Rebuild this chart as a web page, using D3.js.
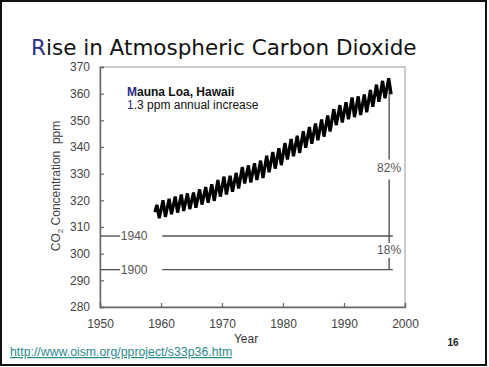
<!DOCTYPE html>
<html>
<head>
<meta charset="utf-8">
<script src="https://cdn.jsdelivr.net/npm/d3@7"></script>
<style>
  body { margin: 0; background: #fff; }
  svg { display: block; }
</style>
</head>
<body>
<div id="chart"></div>
<script>
// Mauna Loa record: one spring peak and one autumn low per year (ppm)
const years = [1959, 1960, 1961, 1962, 1963, 1964, 1965, 1966, 1967, 1968,
               1969, 1970, 1971, 1972, 1973, 1974, 1975, 1976, 1977, 1978,
               1979, 1980, 1981, 1982, 1983, 1984, 1985, 1986, 1987, 1988,
               1989, 1990, 1991, 1992, 1993, 1994, 1995, 1996, 1997];
const springPeaks = [318.3, 320.0, 320.6, 321.4, 322.2, 322.6, 322.9, 324.1, 325.0, 326.0,
                     327.6, 328.9, 329.2, 330.3, 332.5, 333.1, 333.9, 334.9, 336.7, 338.1,
                     339.5, 341.5, 343.0, 344.2, 345.9, 347.5, 348.8, 350.3, 351.8, 354.2,
                     355.7, 356.8, 358.6, 359.0, 359.7, 361.4, 363.4, 364.8, 365.8];
const autumnLows = [313.3, 313.8, 314.8, 315.4, 316.0, 316.7, 317.2, 318.4, 319.1, 319.8,
                    321.4, 322.2, 323.2, 324.4, 326.3, 326.7, 327.6, 328.4, 330.5, 331.9,
                    333.2, 335.3, 336.5, 337.8, 339.7, 341.2, 342.5, 343.9, 345.8, 348.2,
                    349.2, 350.4, 351.2, 352.0, 353.0, 355.1, 357.0, 358.3, 359.8];
const startValue = 315.6;   // January 1959

const yTicks = [280, 290, 300, 310, 320, 330, 340, 350, 360, 370];
const xTicks = [1950, 1960, 1970, 1980, 1990, 2000];

// pre-industrial reference levels
const refLabels = ["1940", "1900"];
const refValues = [306.6, 294.0];
const shareLabels = ["82%", "18%"];
const latestValue = 362.5;
const bracketYear = 1997.4;
const lineEndYear = 1998;

(function draw() {
    const WIDTH = 489;
    const HEIGHT = 367;
    const FONT = "'Liberation Sans', Arial, sans-serif";
    const BLUE = "#2e2e88";

    const svg = d3.select("#chart").append("svg")
        .attr("width", WIDTH)
        .attr("height", HEIGHT);

    // slide frame
    svg.append("rect")
        .attr("x", 1).attr("y", 1)
        .attr("width", 485).attr("height", 364)
        .attr("fill", "#fff")
        .attr("stroke", "#111")
        .attr("stroke-width", 2);

    // title
    const title = svg.append("text")
        .attr("x", 31).attr("y", 55)
        .style("font-family", "'DejaVu Sans', Verdana, sans-serif")
        .style("font-size", "21.5px")
        .attr("fill", "#111");
    title.append("tspan").attr("fill", BLUE).text("R");
    title.append("tspan").text("ise in Atmospheric Carbon Dioxide");

    const x = d3.scaleLinear().domain([1950, 2000]).range([100, 405]);
    const y = d3.scaleLinear().domain([280, 370]).range([307, 67]);

    // plot box
    svg.append("rect")
        .attr("x", x(1950)).attr("y", y(370))
        .attr("width", x(2000) - x(1950))
        .attr("height", y(280) - y(370))
        .attr("fill", "none")
        .attr("stroke", "#aaa")
        .attr("stroke-width", 1.2);

    const yAxis = svg.append("g")
        .attr("transform", `translate(${x(1950)},0)`)
        .call(d3.axisLeft(y).tickValues(yTicks).tickSize(-4).tickPadding(10).tickFormat(d3.format("d")));
    const xAxis = svg.append("g")
        .attr("transform", `translate(0,${y(280)})`)
        .call(d3.axisBottom(x).tickValues(xTicks).tickSize(-4).tickPadding(12).tickFormat(d3.format("d")));

    [yAxis, xAxis].forEach(g => {
        g.select(".domain").attr("stroke", "#666").attr("stroke-width", 1.4);
        g.selectAll(".tick line").attr("stroke", "#666").attr("stroke-width", 1.2);
        g.selectAll(".tick text")
            .attr("fill", "#444")
            .style("font-family", FONT)
            .style("font-size", "12px");
    });

    // axis titles
    const yTitle = svg.append("text")
        .attr("transform", "translate(60,186) rotate(-90)")
        .attr("text-anchor", "middle")
        .attr("fill", "#444")
        .style("font-family", FONT)
        .style("font-size", "12px")
        .style("white-space", "pre");
    yTitle.append("tspan").text("CO");
    yTitle.append("tspan").attr("dy", 3).style("font-size", "8px").text("2");
    yTitle.append("tspan").attr("dy", -3).text(" Concentration  ppm");

    svg.append("text")
        .attr("x", 246).attr("y", 343)
        .attr("text-anchor", "middle")
        .attr("fill", "#333")
        .style("font-family", FONT)
        .style("font-size", "12px")
        .text("Year");

    // reference levels
    refValues.forEach((v, i) => {
        const g = svg.append("g").attr("stroke", "#555").attr("stroke-width", 1.4);
        g.append("line")
            .attr("x1", x(1950)).attr("x2", x(1953.3))
            .attr("y1", y(v)).attr("y2", y(v));
        g.append("line")
            .attr("x1", x(1960.2)).attr("x2", x(lineEndYear))
            .attr("y1", y(v)).attr("y2", y(v));
        svg.append("text")
            .attr("x", x(1955.6)).attr("y", y(v))
            .attr("dy", "0.35em")
            .attr("text-anchor", "middle")
            .attr("fill", "#555")
            .style("font-family", FONT)
            .style("font-size", "12px")
            .text(refLabels[i]);
    });

    // bracket with shares
    const bx = x(bracketYear);
    svg.append("line")
        .attr("x1", bx).attr("x2", bx)
        .attr("y1", y(latestValue)).attr("y2", y(refValues[1]))
        .attr("stroke", "#555").attr("stroke-width", 1.4);
    svg.append("line")
        .attr("x1", bx - 2.5).attr("x2", x(lineEndYear) - 1.5)
        .attr("y1", y(latestValue)).attr("y2", y(latestValue))
        .attr("stroke", "#555").attr("stroke-width", 1.4);

    const shareY = [
        y((latestValue + refValues[0]) / 2) + 6,
        y((refValues[0] + refValues[1]) / 2) - 3
    ];
    shareLabels.forEach((s, i) => {
        svg.append("rect")
            .attr("x", bx - 6).attr("y", shareY[i] - (i === 0 ? 8 : 7))
            .attr("width", 12).attr("height", i === 0 ? 20 : 15)
            .attr("fill", "#fff");
        svg.append("text")
            .attr("x", bx).attr("y", shareY[i])
            .attr("dy", "0.35em")
            .attr("text-anchor", "middle")
            .attr("fill", "#555")
            .style("font-family", FONT)
            .style("font-size", "12px")
            .text(s);
    });

    // CO2 record
    const points = [[1959.0, startValue]];
    years.forEach((yr, i) => {
        points.push([yr + 0.33, springPeaks[i]]);
        points.push([yr + 0.72, autumnLows[i]]);
    });
    svg.append("path")
        .datum(points)
        .attr("fill", "none")
        .attr("stroke", "#000")
        .attr("stroke-width", 3.2)
        .attr("d", d3.line().x(d => x(d[0])).y(d => y(d[1])));

    // station note
    const note1 = svg.append("text")
        .attr("x", 127).attr("y", 96)
        .attr("fill", "#111")
        .style("font-family", FONT)
        .style("font-size", "12px")
        .style("font-weight", "bold");
    note1.append("tspan").attr("fill", BLUE).text("M");
    note1.append("tspan").text("auna Loa, Hawaii");

    const note2 = svg.append("text")
        .attr("x", 127).attr("y", 108.5)
        .attr("fill", "#111")
        .style("font-family", FONT)
        .style("font-size", "12px");
    note2.append("tspan").attr("fill", BLUE).text("1");
    note2.append("tspan").text(".3 ppm annual increase");

    // source link and page number
    svg.append("text")
        .attr("x", 10).attr("y", 356)
        .attr("fill", "#2a8a8a")
        .style("font-family", FONT)
        .style("font-size", "12.3px")
        .style("text-decoration", "underline")
        .text("http://www.oism.org/pproject/s33p36.htm");

    svg.append("text")
        .attr("x", 453).attr("y", 346)
        .attr("text-anchor", "middle")
        .attr("fill", "#222")
        .style("font-family", FONT)
        .style("font-size", "10px")
        .style("font-weight", "bold")
        .text("16");
})();
</script>
</body>
</html>
